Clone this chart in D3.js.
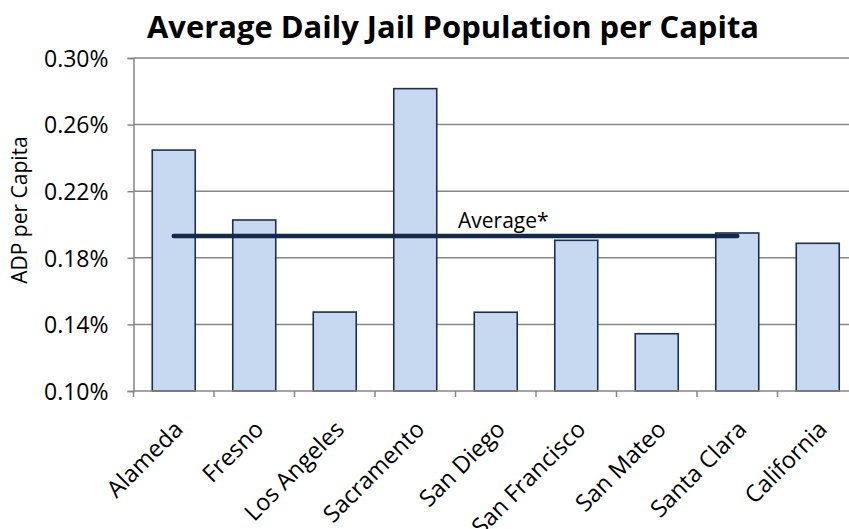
<!DOCTYPE html>
<html>
<head>
<meta charset="utf-8">
<script src="https://cdn.jsdelivr.net/npm/d3@7"></script>
<style>
  html, body { margin: 0; padding: 0; background: #fff; }
  svg { display: block; font-family: "Open Sans", sans-serif; }
</style>
</head>
<body>
<svg id="chart" width="849" height="529"></svg>
<script>
// Jail population per capita by county (percent of residents)
const counties = ["Alameda", "Fresno", "Los Angeles", "Sacramento", "San Diego",
                  "San Francisco", "San Mateo", "Santa Clara", "California"];
const adpPerCapita = [0.2447, 0.2027, 0.1474, 0.2816, 0.1473, 0.1905, 0.1344, 0.1949, 0.1887];

// County average, drawn across the individual counties
const averageCounties = ["Alameda", "Fresno", "Los Angeles", "Sacramento", "San Diego",
                         "San Francisco", "San Mateo", "Santa Clara"];
const averageValue = 0.1931;
const averageLabel = "Average*";

const yTicks = [0.10, 0.14, 0.18, 0.22, 0.26, 0.30];
const yDomain = [0.10, 0.30];

const titleText = "Average Daily Jail Population per Capita";
const yTitle = "ADP per Capita";

const svg = d3.select("#chart");
const plot = { left: 133.5, right: 858, top: 58, bottom: 391 };

const x = d3.scaleBand().domain(counties).range([plot.left, plot.right]).padding(0);
const y = d3.scaleLinear().domain(yDomain).range([plot.bottom, plot.top]);
const barW = x.bandwidth() * 0.534;

const gridColor = "#878787";
const navy = "#132b4a";

// Horizontal gridlines
svg.append("g")
  .selectAll("line")
  .data(yTicks.filter(d => d > yDomain[0]))
  .join("line")
  .attr("x1", plot.left).attr("x2", plot.right)
  .attr("y1", d => y(d)).attr("y2", d => y(d))
  .attr("stroke", gridColor).attr("stroke-width", 1.5);

// Y axis
const yAxis = svg.append("g")
  .attr("transform", `translate(${plot.left},0)`)
  .call(d3.axisLeft(y).tickValues(yTicks).tickFormat(d => d.toFixed(2) + "%")
        .tickSize(6).tickPadding(19));
yAxis.select(".domain").attr("stroke", gridColor).attr("stroke-width", 1.5);
yAxis.selectAll(".tick line").attr("stroke", gridColor).attr("stroke-width", 1.5);
yAxis.selectAll(".tick text")
  .attr("font-family", "'Open Sans', sans-serif")
  .attr("font-size", 23).attr("fill", "#000").attr("dy", "0.36em");

// Bars
svg.append("g")
  .selectAll("rect")
  .data(counties.map((c, i) => ({ c, v: adpPerCapita[i] })))
  .join("rect")
  .attr("x", d => x(d.c) + (x.bandwidth() - barW) / 2)
  .attr("width", barW)
  .attr("y", d => y(d.v))
  .attr("height", d => y(yDomain[0]) - y(d.v))
  .attr("fill", "#c6d9f0")
  .attr("stroke", "#1a3050")
  .attr("stroke-width", 1.6);

// X axis: ticks on category boundaries
const xg = svg.append("g").attr("transform", `translate(0,${plot.bottom})`);
xg.append("line")
  .attr("x1", plot.left).attr("x2", plot.right)
  .attr("stroke", gridColor).attr("stroke-width", 1.5);
xg.selectAll("line.tick")
  .data(counties)
  .join("line")
  .attr("class", "tick")
  .attr("x1", d => x(d)).attr("x2", d => x(d))
  .attr("y1", 0).attr("y2", 6)
  .attr("stroke", gridColor).attr("stroke-width", 1.5);
xg.selectAll("text")
  .data(counties)
  .join("text")
  .attr("transform", d => `translate(${x(d) + x.bandwidth() / 2 + 5},34) rotate(-45)`)
  .attr("text-anchor", "end")
  .attr("dy", "0.35em")
  .attr("font-size", 23.5)
  .attr("fill", "#000")
  .text(d => d);

// Average line
const avgLine = d3.line()
  .x(d => x(d) + x.bandwidth() / 2)
  .y(() => y(averageValue));
svg.append("path")
  .datum(averageCounties)
  .attr("d", avgLine)
  .attr("fill", "none")
  .attr("stroke", navy)
  .attr("stroke-width", 4.5)
  .attr("stroke-linecap", "round");

svg.append("text")
  .attr("x", 458)
  .attr("y", y(averageValue) - 7.5)
  .attr("font-size", 21)
  .attr("fill", "#000")
  .text(averageLabel);

// Y axis title
svg.append("text")
  .attr("transform", "translate(27,210) rotate(-90)")
  .attr("text-anchor", "middle")
  .attr("font-size", 21)
  .attr("fill", "#000")
  .text(yTitle);

// Chart title
svg.append("text")
  .attr("x", 453).attr("y", 38)
  .attr("text-anchor", "middle")
  .attr("font-size", 30)
  .attr("font-weight", 700)
  .attr("textLength", 612)
  .attr("lengthAdjust", "spacingAndGlyphs")
  .attr("fill", "#000")
  .text(titleText);
</script>
</body>
</html>
